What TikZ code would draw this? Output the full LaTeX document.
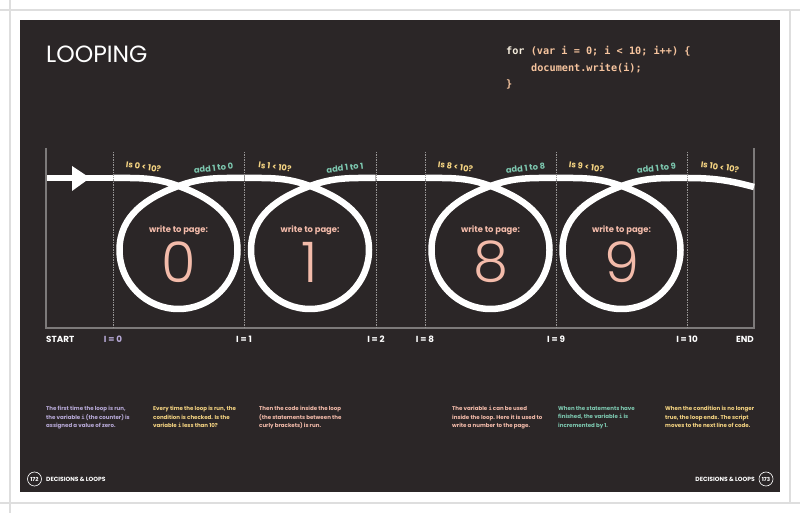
\documentclass[tikz,border=0pt]{standalone}
\usepackage{fontspec}
\setmainfont{Poppins}
\setmonofont{DejaVu Sans Mono}
\newfontfamily\thinfont{Poppins Light}
\definecolor{board}{RGB}{43,38,39}
\definecolor{framegray}{RGB}{125,122,122}
\definecolor{pagegray}{RGB}{222,222,222}
\definecolor{condyel}{RGB}{245,212,130}
\definecolor{addteal}{RGB}{125,200,176}
\definecolor{salmon}{RGB}{243,187,170}
\definecolor{lavender}{RGB}{184,170,216}
\definecolor{codepeach}{RGB}{246,196,158}
\definecolor{cream}{RGB}{246,238,222}

\begin{document}
\begin{tikzpicture}[x=1pt,y=1pt,
  track/.style={white,line width=6.5pt},
  condlabel/.style={condyel,inner sep=0pt,font=\bfseries\fontsize{8.3}{9}\selectfont},
  addlabel/.style={addteal,inner sep=0pt,font=\bfseries\fontsize{8.3}{9}\selectfont},
  writelabel/.style={salmon,inner sep=0pt,font=\bfseries\fontsize{8.4}{9}\selectfont},
  digit/.style={salmon,inner sep=0pt,font=\thinfont\fontsize{56}{56}\selectfont},
  counter/.style={white,inner sep=0pt,font=\bfseries\fontsize{8.8}{9}\selectfont},
  note/.style={anchor=north west,align=left,inner sep=0pt,font=\bfseries\fontsize{5.5}{8.5}\selectfont}]
\useasboundingbox (0,0) rectangle (800,513);
% page and board
\fill[white] (0,0) rectangle (800,513);
\draw[pagegray,line width=1.5pt] (0,503) -- (800,503);
\draw[pagegray,line width=1.5pt] (0,10) -- (800,10);
\draw[pagegray,line width=1.5pt] (10,0) -- (10,513);
\draw[pagegray,line width=1.5pt] (790,503) -- (790,10);
\fill[board] (20,20.5) rectangle (780,493);
\node[anchor=base west,white,inner sep=0pt,font=\fontsize{23.5}{24}\selectfont] (title) at (46,450) {LOOPING};
\node[anchor=base west,inner sep=0pt,font=\ttfamily\bfseries\fontsize{10.2}{12}\selectfont] (code1) at (506,458)
  {\textcolor{cream}{for} \textcolor{codepeach}{(var i = 0; i < 10; i++) \{}};
\node[anchor=base west,inner sep=0pt,codepeach,font=\ttfamily\bfseries\fontsize{10.2}{12}\selectfont] (code2) at (531,441.5) {document.write(i);};
\node[anchor=base west,inner sep=0pt,codepeach,font=\ttfamily\bfseries\fontsize{10.2}{12}\selectfont] (code3) at (506,425) {\}};
% frame
\draw[framegray,line width=1.2pt] (46,365) -- (46,185) -- (754,185) -- (754,365);
% track
\draw[track] (47,335) -- (113,335);
\fill[white] (72,347) -- (90,335) -- (72,322) -- cycle;
\draw[track] (376,335) -- (425,335);
\foreach \cx/\k in {178.5/0,310/1,490.5/8,621.5/9}{
  \draw[track] (\cx-65.5,335) to[out=0,in=160] (\cx,327) to[out=-20,in=90] (\cx+59,263)
    arc[start angle=0,end angle=-180,radius=59] to[out=90,in=200] (\cx,327) to[out=20,in=180] (\cx+65.5,335);
  \node[condlabel,rotate=-8] (cond\k) at (\cx-35,346) {Is \k{} < 10?};
  \node[addlabel,rotate=7] (add\k) at (\cx+35,345) {add 1 to \k};
  \node[writelabel] (write\k) at (\cx,283) {write to page:};
  \node[digit] (out\k) at (\cx,251) {\k};
}
\draw[track] (687,335) to[out=0,in=165] (754,326);
\node[condlabel,rotate=-8] (cond10) at (720,346) {Is 10 < 10?};
\foreach \x in {113,244,376,425,556,687}
  \draw[framegray!80!white,line width=0.8pt,dash pattern=on 1.5pt off 1pt] (\x,361) -- (\x,185);
% counter values
\node[counter,anchor=west] (start) at (46,174) {START};
\node[counter,lavender] (i0) at (113,174) {I = 0};
\node[counter] (i1) at (244,174) {I = 1};
\node[counter] (i2) at (376,174) {I = 2};
\node[counter] (i8) at (425,174) {I = 8};
\node[counter] (i9) at (556,174) {I = 9};
\node[counter] (i10) at (687,174) {I = 10};
\node[counter,anchor=east] (end) at (754,174) {END};
% notes
\node[note,lavender] (note1) at (46,107) {The first time the loop is run,\\the variable \texttt{i} (the counter) is\\assigned a value of zero.};
\node[note,condyel] (note2) at (153,107) {Every time the loop is run, the\\condition is checked. Is the\\variable \texttt{i} less than 10?};
\node[note,salmon] (note3) at (259,107) {Then the code inside the loop\\(the statements between the\\curly brackets) is run.};
\node[note,salmon] (note4) at (452,107) {The variable \texttt{i} can be used\\inside the loop. Here it is used to\\write a number to the page.};
\node[note,addteal] (note5) at (558,107) {When the statements have\\finished, the variable \texttt{i} is\\incremented by 1.};
\node[note,condyel] (note6) at (665,107) {When the condition is no longer\\true, the loop ends. The script\\moves to the next line of code.};
% footer
\node[circle,draw=white,line width=0.6pt,minimum size=14pt,inner sep=0pt,white,font=\bfseries\fontsize{5.5}{6}\selectfont] (pageL) at (34.5,34) {172};
\node[counter,anchor=west,font=\bfseries\fontsize{6}{7}\selectfont] (footL) at (46,34) {DECISIONS \& LOOPS};
\node[circle,draw=white,line width=0.6pt,minimum size=14pt,inner sep=0pt,white,font=\bfseries\fontsize{5.5}{6}\selectfont] (pageR) at (766,34) {173};
\node[counter,anchor=east,font=\bfseries\fontsize{6}{7}\selectfont] (footR) at (755,34) {DECISIONS \& LOOPS};
\end{tikzpicture}
\end{document}
